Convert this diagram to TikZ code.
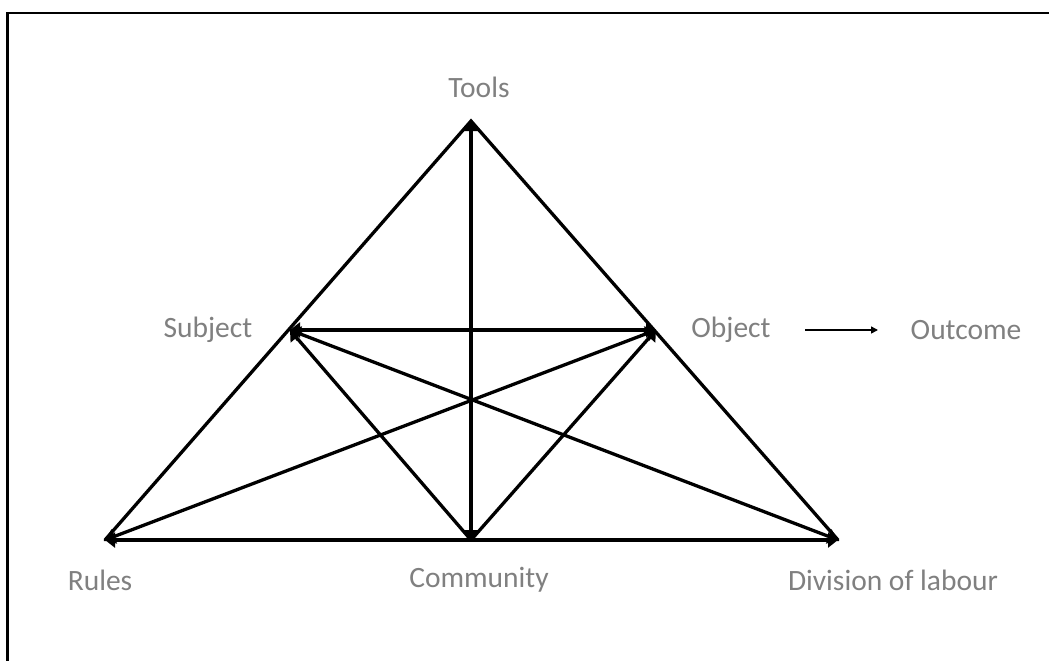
\documentclass[tikz,border=0pt]{standalone}
\usepackage{fontspec}
\setmainfont{Carlito}
\usetikzlibrary{arrows.meta}
\definecolor{labelgray}{RGB}{128,128,128}
\begin{document}
\begin{tikzpicture}[x=1pt,y=-1pt,
  lbl/.style={text=labelgray,font=\fontsize{29.5}{33}\selectfont,inner sep=0pt},
  edge/.style={line width=3.3pt,line cap=round},
  arr/.style={edge,-{Triangle[length=10pt,width=15pt]}},
  darr/.style={edge,{Triangle[length=10pt,width=15pt]}-{Triangle[length=10pt,width=15pt]}}]
\useasboundingbox (0,0) rectangle (1049,661);
\fill[white] (0,0) rectangle (1049,661);
% frame
\coordinate (ftr) at (1049,13);
\coordinate (ftl) at (7.5,13);
\coordinate (fbl) at (7.5,661);
\draw[line width=2.5pt] (ftr) -- (ftl) -- (fbl);
% vertices
\coordinate (T) at (471,121);
\coordinate (S) at (290,330);
\coordinate (O) at (656,330);
\coordinate (R) at (105,540);
\coordinate (C) at (471,540);
\coordinate (D) at (838,540);
% labels
\node[lbl] (lT) at (479,87) {Tools};
\node[lbl] (lS) at (208,330) {Subject};
\node[lbl] (lO) at (731,330) {Object};
\node[lbl] (lOut) at (966,330) {Outcome};
\node[lbl] (lR) at (100,580) {Rules};
\node[lbl] (lC) at (479,580) {Community};
\node[lbl] (lD) at (893,580) {Division of labour};
% triangle sides
\draw[edge] (R) -- (T) -- (D);
\draw[darr] (R) -- (D);
% inner connections
\draw[darr] (C) -- (T);
\draw[darr] (S) -- (O);
\draw[darr] (S) -- (D);
\draw[darr] (R) -- (O);
\draw[arr] (C) -- (S);
\draw[arr] (C) -- (O);
% outcome arrow
\coordinate (oa) at (805,330);
\coordinate (ob) at (878,330);
\draw[line width=1.5pt,-{Triangle[length=7pt,width=7pt]}] (oa) -- (ob);
\end{tikzpicture}
\end{document}
